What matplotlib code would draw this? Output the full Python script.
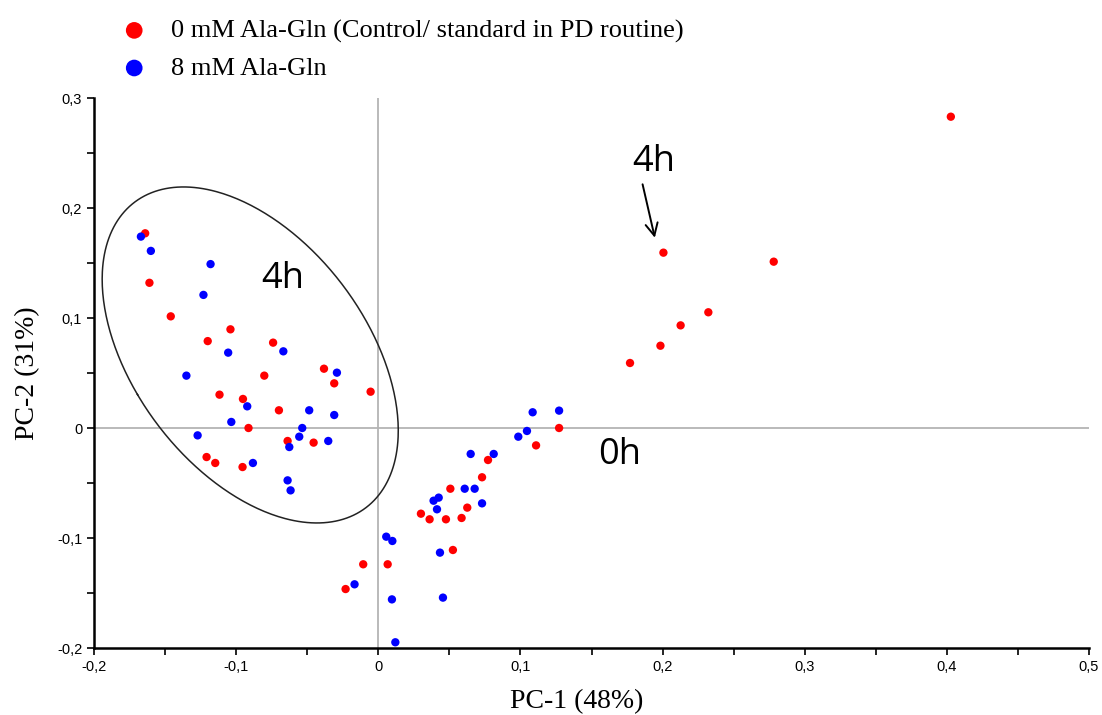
import numpy as np
import matplotlib
matplotlib.use("Agg")
import matplotlib.pyplot as plt
from matplotlib.ticker import MultipleLocator, FuncFormatter

# ---- data ----
ctrl_x = [-0.164, -0.161, -0.146, -0.104, -0.120, -0.074, -0.0802, -0.0382, -0.031, -0.0054,
          -0.1117, -0.0952, -0.0699, -0.0913, -0.0638, -0.0455, -0.1208, -0.1147, -0.0955,
          0.1272, 0.111, 0.0772, 0.073, 0.0507, 0.0626, 0.030, 0.0361, 0.0476, 0.0586, 0.0525,
          -0.0106, 0.0066, -0.023,
          0.4028, 0.2006, 0.2782, 0.2322, 0.2127, 0.1985, 0.1771]
ctrl_y = [0.177, 0.132, 0.1015, 0.0897, 0.079, 0.0776, 0.0476, 0.0539, 0.0406, 0.033,
          0.0303, 0.0264, 0.0161, 0.0, -0.0118, -0.0133, -0.0264, -0.0318, -0.0355,
          0.0, -0.0158, -0.0291, -0.0448, -0.0552, -0.0724, -0.0779, -0.083, -0.083, -0.0818, -0.1109,
          -0.1239, -0.1239, -0.1464,
          0.283, 0.1594, 0.1512, 0.1052, 0.0933, 0.0748, 0.0591]

ala_x = [-0.167, -0.160, -0.118, -0.123, -0.1056, -0.0668, -0.135, -0.0291, -0.0922, -0.0486,
         -0.031, -0.1034, -0.0535, -0.1271, -0.0556, -0.0626, -0.0352, -0.0882, -0.0638, -0.0617,
         0.1086, 0.1272, 0.0985, 0.1046, 0.065, 0.0812, 0.0608, 0.0678, 0.0389, 0.0425,
         0.0413, 0.073, 0.0056, 0.0099, 0.0434, -0.0167, 0.0096, 0.0455, 0.012]
ala_y = [0.174, 0.161, 0.149, 0.121, 0.0685, 0.0697, 0.0476, 0.0503, 0.0197, 0.0161,
         0.0118, 0.0055, 0.0, -0.0067, -0.0079, -0.0173, -0.0118, -0.0318, -0.0476, -0.0567,
         0.0143, 0.0158, -0.0079, -0.0027, -0.0236, -0.0236, -0.0552, -0.0552, -0.0661, -0.0633,
         -0.0739, -0.0685, -0.0988, -0.1027, -0.1133, -0.1421, -0.1558, -0.1542, -0.1948]

labels = ["0 mM Ala-Gln (Control/ standard in PD routine)", "8 mM Ala-Gln"]
colors = ["#ff0000", "#0000ff"]
x_label = "PC-1 (48%)"
y_label = "PC-2 (31%)"

# ellipse (data units): center and covariance-like shape
ell_center = (-0.0901, 0.0664)
ell_cov = np.array([[0.010848, -0.007165], [-0.007165, 0.023326]])

fig = plt.figure(figsize=(11.02, 7.15), dpi=100)
ax = fig.add_axes([94/1102, 1-648/715, (1089-94)/1102, (648-98)/715])

ax.axhline(0, color="#b4b4b4", lw=1.3, zorder=1)
ax.axvline(0, color="#b4b4b4", lw=1.3, zorder=1)

s1 = ax.scatter(ctrl_x, ctrl_y, s=36, color=colors[0], edgecolors="none", zorder=3)
s2 = ax.scatter(ala_x, ala_y, s=36, color=colors[1], edgecolors="none", zorder=3)

# ellipse
vals, vecs = np.linalg.eigh(ell_cov)
t = np.linspace(0, 2*np.pi, 400)
circ = np.vstack([np.cos(t), np.sin(t)])
pts = vecs @ (np.sqrt(vals)[:, None] * circ)
ax.plot(ell_center[0] + pts[0], ell_center[1] + pts[1], color="#222222", lw=1.1, zorder=2)

ax.set_xlim(-0.2, 0.5)
ax.set_ylim(-0.2, 0.3)
for sp in ["top", "right"]:
    ax.spines[sp].set_visible(False)
for sp in ["left", "bottom"]:
    ax.spines[sp].set_linewidth(1.8)
ax.xaxis.set_major_locator(MultipleLocator(0.1))
ax.xaxis.set_minor_locator(MultipleLocator(0.05))
ax.yaxis.set_major_locator(MultipleLocator(0.1))
ax.yaxis.set_minor_locator(MultipleLocator(0.05))
fmt = FuncFormatter(lambda v, p: ("0" if abs(v) < 1e-9 else f"{v:.1f}".replace(".", ",")))
ax.xaxis.set_major_formatter(fmt)
ax.yaxis.set_major_formatter(fmt)
tick_font = ["Liberation Sans Narrow", "Liberation Sans", "DejaVu Sans"]
ax.tick_params(which="both", direction="out", length=5, width=1.2, color="black")
for lab in ax.get_xticklabels() + ax.get_yticklabels():
    lab.set_family(tick_font)
    lab.set_fontsize(10.5)

serif = ["Liberation Serif", "DejaVu Serif"]
ax.set_xlabel(x_label, family=serif, fontsize=20)
ax.xaxis.set_label_coords(0.485, -0.075)
ax.set_ylabel(y_label, family=serif, fontsize=20)
ax.yaxis.set_label_coords(-0.054, 0.5)

sans = ["Open Sans", "DejaVu Sans"]
ax.text(-0.0669, 0.135, "4h", family=sans, fontsize=26, ha="center", va="center")
ax.text(0.17, -0.025, "0h", family=sans, fontsize=26, ha="center", va="center")
ax.text(0.194, 0.242, "4h", family=sans, fontsize=26, ha="center", va="center")
ax.annotate("", xy=(0.195, 0.1705), xytext=(0.1855, 0.224),
            arrowprops=dict(arrowstyle="->", color="black", lw=1.4, mutation_scale=22))

leg = fig.legend([s1, s2], labels, loc="upper left", bbox_to_anchor=(92/1102, 1-3/715),
                 frameon=False, markerscale=2.0, handlelength=2.0, handletextpad=0.4,
                 labelspacing=0.52, borderpad=0.1,
                 prop={"family": serif, "size": 19})

fig.savefig("out.png", dpi=100)
